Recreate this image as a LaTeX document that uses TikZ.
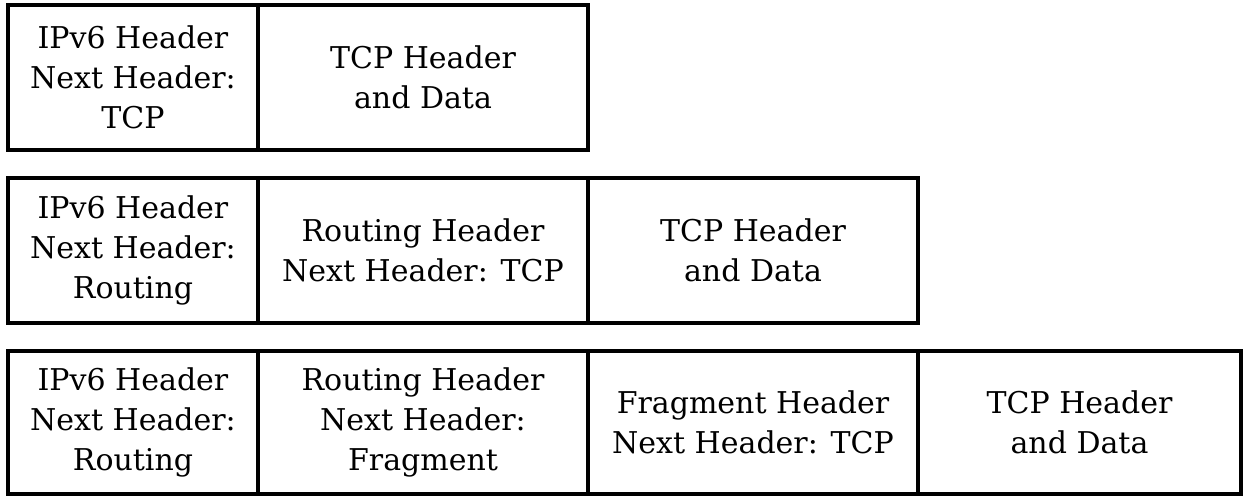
\documentclass[tikz,border=0pt]{standalone}
\usepackage{fontspec}
\setmainfont{DejaVu Serif}
\begin{document}
\begin{tikzpicture}[x=1pt,y=-1pt,
  cell/.style={draw=black, line width=3.6pt, inner sep=0pt, outer sep=0pt,
    align=center, font=\fontsize{30}{40}\selectfont},
  rowA/.style={cell, minimum height=145pt},
  rowB/.style={cell, minimum height=145pt},
  rowC/.style={cell, minimum height=143pt}]
\useasboundingbox (0,0) rectangle (1247,498);

% IPv6 followed directly by TCP
\node[rowA, minimum width=250pt] (a1) at (133,77.5) {IPv6 Header\\Next Header:\\TCP};
\node[rowA, minimum width=330pt] (b1) at (423,77.5) {TCP Header\\and Data};

% IPv6 with a Routing extension header
\node[rowB, minimum width=250pt] (a2) at (133,250.5) {IPv6 Header\\Next Header:\\Routing};
\node[rowB, minimum width=330pt] (b2) at (423,250.5) {Routing Header\\Next Header: TCP};
\node[rowB, minimum width=330pt] (c2) at (753,250.5) {TCP Header\\and Data};

% IPv6 with Routing and Fragment extension headers
\node[rowC, minimum width=250pt] (a3) at (133,422.5) {IPv6 Header\\Next Header:\\Routing};
\node[rowC, minimum width=330pt] (b3) at (423,422.5) {Routing Header\\Next Header:\\Fragment};
\node[rowC, minimum width=330pt] (c3) at (753,422.5) {Fragment Header\\Next Header: TCP};
\node[rowC, minimum width=323pt] (d3) at (1079.5,422.5) {TCP Header\\and Data};
\end{tikzpicture}
\end{document}
